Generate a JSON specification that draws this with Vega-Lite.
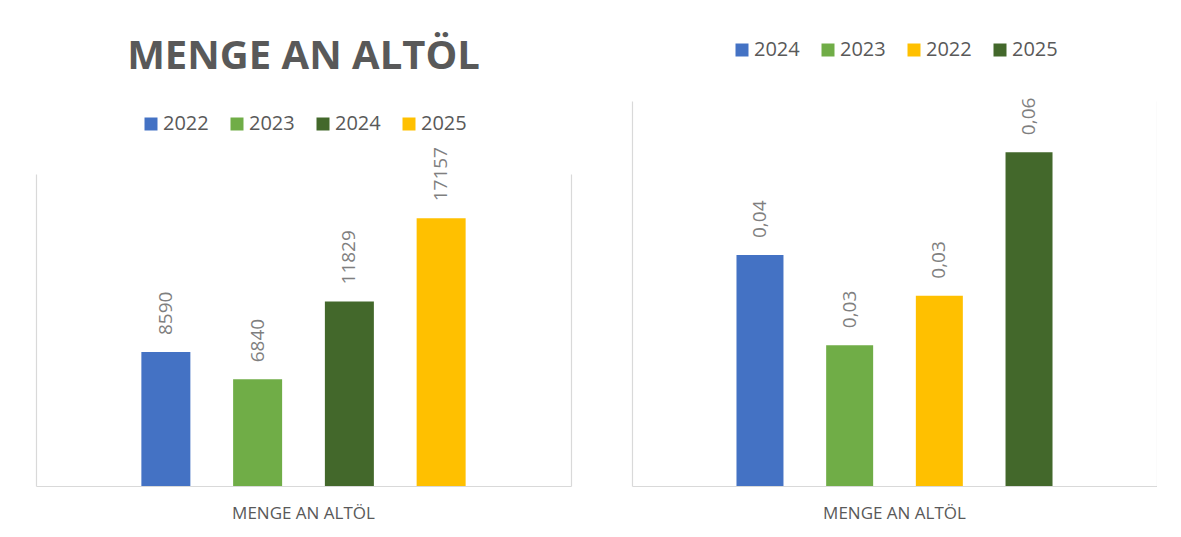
{
  "$schema": "https://vega.github.io/schema/vega-lite/v6.json",
  "background": "white",
  "padding": {"left": 36, "top": 37, "right": 0, "bottom": 0},
  "spacing": 61,
  "datasets": {
    "left": [
      {"cat": "MENGE AN ALTÖL", "year": "2022", "value": 8590},
      {"cat": "MENGE AN ALTÖL", "year": "2023", "value": 6840},
      {"cat": "MENGE AN ALTÖL", "year": "2024", "value": 11829},
      {"cat": "MENGE AN ALTÖL", "year": "2025", "value": 17157}
    ],
    "right": [
      {"cat": "MENGE AN ALTÖL", "year": "2024", "value": 0.042},
      {"cat": "MENGE AN ALTÖL", "year": "2023", "value": 0.0256},
      {"cat": "MENGE AN ALTÖL", "year": "2022", "value": 0.0346},
      {"cat": "MENGE AN ALTÖL", "year": "2025", "value": 0.0607}
    ]
  },
  "config": {
    "locale": {"number": {"decimal": ",", "thousands": ".", "grouping": [3], "currency": ["", " €"]}},
    "font": "Open Sans",
    "view": {"stroke": null},
    "axis": {"domainColor": "#d9d9d9", "domainWidth": 1.2, "ticks": false, "grid": false, "title": null, "labelLimit": 0},
    "legend": {"orient": "top", "direction": "horizontal", "title": null, "symbolType": "square", "symbolSize": 169, "symbolStrokeWidth": 0, "labelFontSize": 20, "labelFont": "Open Sans", "labelColor": "#595959", "columnPadding": 18, "labelOffset": 2, "layout": {"top": {"anchor": "middle"}}}
  },
  "hconcat": [
    {
      "title": {"text": "MENGE AN ALTÖL", "fontSize": 40, "font": "Open Sans", "fontWeight": "bold", "color": "#595959", "anchor": "middle", "offset": 24},
      "data": {"name": "left"},
      "width": 535,
      "height": 385,
      "encoding": {
        "x": {"field": "cat", "type": "nominal", "scale": {"paddingOuter": 0.143, "paddingInner": 0}, "axis": {"labelAngle": 0, "labelFontSize": 17, "labelColor": "#595959", "labelPadding": 19, "domain": true}},
        "xOffset": {"field": "year", "type": "nominal", "sort": ["2022", "2023", "2024", "2025"], "scale": {"paddingInner": 0.466, "paddingOuter": 0.5}}
      },
      "layer": [
        {
          "mark": {"type": "bar"},
          "encoding": {
            "y": {"field": "value", "type": "quantitative", "scale": {"domain": [0, 20000], "nice": false, "range": [385, 73]}, "axis": {"orient": "left", "labels": false, "domain": true}},
            "color": {"field": "year", "type": "nominal", "scale": {"domain": ["2022", "2023", "2024", "2025"], "range": ["#4472c4", "#70ad47", "#43682b", "#ffc000"]}, "legend": {"offset": -33}}
          }
        },
        {
          "mark": {"type": "text", "angle": 270, "align": "left", "baseline": "middle", "dx": 17, "fontSize": 19, "color": "#7f7f7f"},
          "encoding": {
            "y": {"field": "value", "type": "quantitative", "axis": {"orient": "right", "labels": false, "domain": true}},
            "text": {"field": "value", "type": "quantitative", "format": "d"}
          }
        }
      ],
      "resolve": {"axis": {"y": "independent"}}
    },
    {
      "data": {"name": "right"},
      "width": 525,
      "height": 385,
      "encoding": {
        "x": {"field": "cat", "type": "nominal", "scale": {"paddingOuter": 0.147, "paddingInner": 0}, "axis": {"labelAngle": 0, "labelFontSize": 17, "labelColor": "#595959", "labelPadding": 19, "domain": true}},
        "xOffset": {"field": "year", "type": "nominal", "sort": ["2024", "2023", "2022", "2025"], "scale": {"paddingInner": 0.476, "paddingOuter": 0.5}}
      },
      "layer": [
        {
          "mark": {"type": "bar"},
          "encoding": {
            "y": {"field": "value", "type": "quantitative", "scale": {"domain": [0, 0.07], "nice": false}, "axis": {"orient": "left", "labels": false, "domain": true}},
            "color": {"field": "year", "type": "nominal", "scale": {"domain": ["2024", "2023", "2022", "2025"], "range": ["#4472c4", "#70ad47", "#ffc000", "#43682b"]}, "legend": {"offset": 41}}
          }
        },
        {
          "mark": {"type": "text", "angle": 270, "align": "left", "baseline": "middle", "dx": 17, "fontSize": 19, "color": "#7f7f7f"},
          "encoding": {
            "y": {"field": "value", "type": "quantitative", "axis": {"orient": "right", "labels": false, "domain": true}},
            "text": {"field": "value", "type": "quantitative", "format": ".2f"}
          }
        }
      ],
      "resolve": {"axis": {"y": "independent"}}
    }
  ],
  "resolve": {"scale": {"color": "independent", "x": "independent", "y": "independent", "xOffset": "independent"}, "legend": {"color": "independent"}}
}
